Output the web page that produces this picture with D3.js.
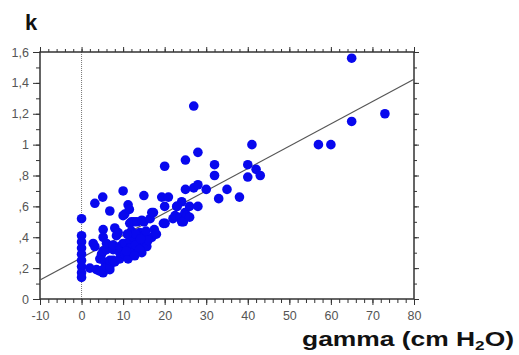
<!DOCTYPE html>
<html>
<head>
<meta charset="utf-8">
<script src="https://cdn.jsdelivr.net/npm/d3@7"></script>
<style>
  body { margin: 0; background: #fff; }
  svg { display: block; }
</style>
</head>
<body>
<div id="chart"></div>
<script>
// gamma (cm H2O) and k
const gammaValues = [
  0, 0, 0, 0, 0, 0, 0, 0, 0,
  2, 2.8, 3.2, 3.2, 5.1, 4.4, 4.8, 5.2, 5.2, 5.2, 5.6, 3.6, 5.2, 5.2, 4.4,
  6, 6.8, 6.8, 6.8, 6, 6, 6.8, 7.6, 7.6, 7.6, 8, 8.4, 8.8, 8, 9.2, 9.2, 9.2, 9.6,
  10, 10, 10, 10.4, 10.4, 10.4, 11.2, 11.5, 11.6, 11.6, 11.6, 11.2, 12, 12, 12.4, 12.6,
  13.3, 13.6, 13.3, 14, 14.5, 14.5, 14.8, 15, 15, 15, 15.7, 16.5, 16.9, 16.9, 17.3,
  12.5, 13, 14, 16, 13, 11, 15.5, 17.5, 18, 10.8, 12.8, 14.2,
  19.3, 20.9, 20, 19.7, 20.1, 22, 22.5, 23, 23.7, 24.1, 24.1, 24.9, 25.3, 24.5, 26, 26,
  25, 27, 28, 28, 30, 25, 28, 27, 32, 32, 33, 35, 38, 40, 40, 41, 42, 43,
  57, 60, 65, 65, 73, 22.9, 20
];
const kValues = [
  0.52, 0.41, 0.37, 0.33, 0.29, 0.25, 0.21, 0.17, 0.14,
  0.20, 0.36, 0.34, 0.62, 0.66, 0.26, 0.29, 0.45, 0.40, 0.31, 0.24, 0.19, 0.19, 0.17, 0.18,
  0.21, 0.19, 0.21, 0.25, 0.32, 0.36, 0.57, 0.25, 0.32, 0.35, 0.46, 0.41, 0.43, 0.24, 0.26, 0.30, 0.34, 0.33,
  0.36, 0.70, 0.54, 0.36, 0.29, 0.55, 0.61, 0.58, 0.49, 0.38, 0.33, 0.26, 0.44, 0.50, 0.30, 0.50,
  0.37, 0.33, 0.50, 0.43, 0.30, 0.51, 0.37, 0.41, 0.50, 0.67, 0.34, 0.52, 0.40, 0.56, 0.56,
  0.40, 0.35, 0.32, 0.38, 0.42, 0.42, 0.44, 0.45, 0.42, 0.31, 0.28, 0.39,
  0.66, 0.66, 0.60, 0.49, 0.49, 0.52, 0.54, 0.60, 0.53, 0.50, 0.63, 0.56, 0.54, 0.50, 0.53, 0.60,
  0.71, 0.72, 0.74, 0.60, 0.71, 0.90, 0.95, 1.25, 0.87, 0.80, 0.65, 0.71, 0.66, 0.87, 0.79, 1.00, 0.84, 0.80,
  1.00, 1.00, 1.56, 1.15, 1.20, 0.60, 0.86
];
// fitted line end points
const fitGamma = [-10, 80];
const fitK = [0.123, 1.423];

const xTicks = [-10, 0, 10, 20, 30, 40, 50, 60, 70, 80];
const xTickLabels = ['-10', '0', '10', '20', '30', '40', '50', '60', '70', '80'];
const yTicks = [0, 0.2, 0.4, 0.6, 0.8, 1, 1.2, 1.4, 1.6];
const yTickLabels = ['0', ',2', ',4', ',6', ',8', '1', '1,2', '1,4', '1,6'];

const width = 519, height = 355;
const margin = { top: 52, right: 105, bottom: 56, left: 40 };
const w = width - margin.left - margin.right;
const h = height - margin.top - margin.bottom;
const font = 'Arial, "Liberation Sans", sans-serif';

const svg = d3.select('#chart').append('svg')
  .attr('width', width)
  .attr('height', height);

const x = d3.scaleLinear().domain([-10, 80]).range([0, w]);
const y = d3.scaleLinear().domain([0, 1.6]).range([h, 0]);

const g = svg.append('g')
  .attr('transform', `translate(${margin.left}, ${margin.top})`);

// dotted line at gamma = 0
g.append('line')
  .attr('x1', x(0)).attr('x2', x(0))
  .attr('y1', 0).attr('y2', h)
  .attr('stroke', '#777')
  .attr('stroke-width', 1)
  .attr('stroke-dasharray', '1,1');

const minorX = d3.range(-10, 81, 2);
const minorY = d3.range(0, 1.601, 0.1);

function styleAxis(sel) {
  sel.select('.domain').remove();
  sel.selectAll('line').attr('stroke', '#333').attr('stroke-width', 1);
  sel.selectAll('text')
    .attr('fill', '#555')
    .style('font-family', font)
    .style('font-size', '12.5px');
}

// minor ticks
g.append('g').attr('transform', `translate(0, ${h})`)
  .call(d3.axisBottom(x).tickValues(minorX).tickSize(4).tickFormat(''))
  .call(styleAxis);
g.append('g')
  .call(d3.axisTop(x).tickValues(minorX).tickSize(3).tickFormat(''))
  .call(styleAxis);
g.append('g')
  .call(d3.axisLeft(y).tickValues(minorY).tickSize(4).tickFormat(''))
  .call(styleAxis);
g.append('g').attr('transform', `translate(${w}, 0)`)
  .call(d3.axisRight(y).tickValues(minorY).tickSize(3).tickFormat(''))
  .call(styleAxis);

// major ticks with labels
g.append('g').attr('transform', `translate(0, ${h})`)
  .call(d3.axisBottom(x).tickValues(xTicks).tickSize(6).tickPadding(6)
    .tickFormat((d, i) => xTickLabels[i]))
  .call(styleAxis);
g.append('g')
  .call(d3.axisTop(x).tickValues(xTicks).tickSize(5).tickFormat(''))
  .call(styleAxis);
g.append('g')
  .call(d3.axisLeft(y).tickValues(yTicks).tickSize(7).tickPadding(4)
    .tickFormat((d, i) => yTickLabels[i]))
  .call(styleAxis);
g.append('g').attr('transform', `translate(${w}, 0)`)
  .call(d3.axisRight(y).tickValues(yTicks).tickSize(5).tickFormat(''))
  .call(styleAxis);

// frame
g.append('rect')
  .attr('width', w).attr('height', h)
  .attr('fill', 'none')
  .attr('stroke', '#333')
  .attr('stroke-width', 1.5);

// fitted line
g.append('line')
  .attr('x1', x(fitGamma[0])).attr('y1', y(fitK[0]))
  .attr('x2', x(fitGamma[1])).attr('y2', y(fitK[1]))
  .attr('stroke', '#555')
  .attr('stroke-width', 1.2);

// points
g.selectAll('.dot')
  .data(gammaValues.map((d, i) => ({ gamma: d, k: kValues[i] })))
  .enter()
  .append('circle')
  .attr('class', 'dot')
  .attr('cx', d => x(d.gamma))
  .attr('cy', d => y(d.k))
  .attr('r', 4.8)
  .attr('fill', '#0808ee');

// titles
svg.append('text')
  .attr('x', 25).attr('y', 30)
  .style('font-family', font)
  .style('font-size', '22px')
  .style('font-weight', 'bold')
  .attr('fill', '#111')
  .text('k');

const xt = svg.append('text')
  .attr('x', 302).attr('y', 346)
  .attr('textLength', 212)
  .attr('lengthAdjust', 'spacingAndGlyphs')
  .style('font-family', font)
  .style('font-size', '20px')
  .style('font-weight', 'bold')
  .attr('fill', '#111');
xt.append('tspan').text('gamma (cm H');
xt.append('tspan').attr('dy', 4).style('font-size', '13px').text('2');
xt.append('tspan').attr('dy', -4).text('O)');
</script>
</body>
</html>
